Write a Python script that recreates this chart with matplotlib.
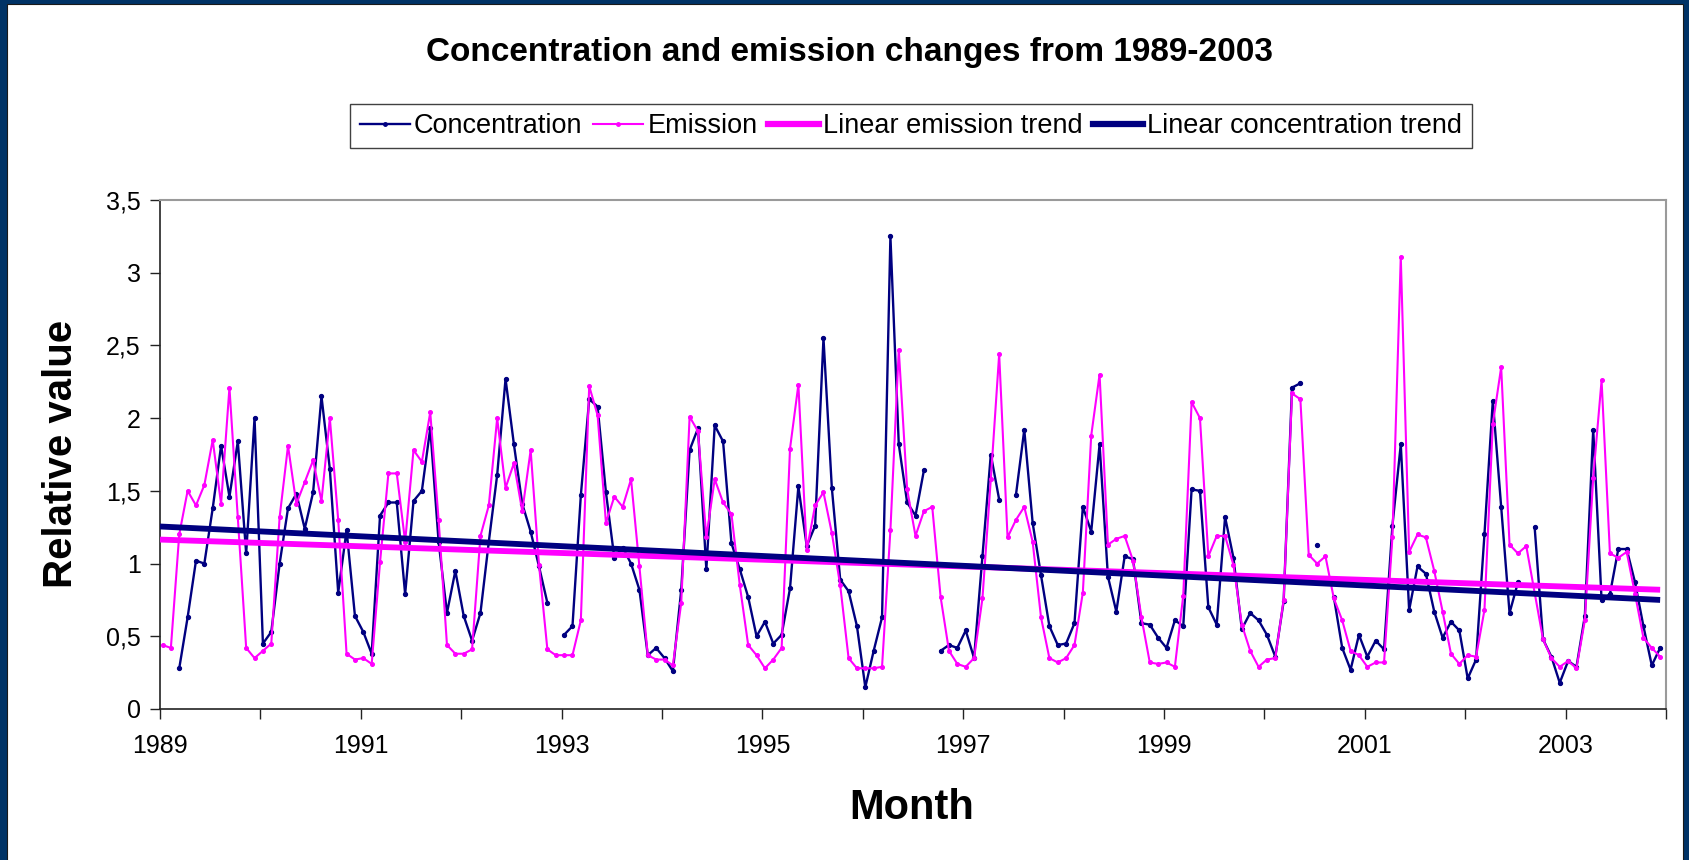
import numpy as np
import matplotlib
matplotlib.use("Agg")
import matplotlib.pyplot as plt
from matplotlib.patches import Rectangle
from matplotlib.lines import Line2D

plt.rcParams['font.family'] = ['Liberation Sans', 'DejaVu Sans']

# ---------------- data (monthly, Jan 1989 .. Dec 2003) ----------------
first_year = 1989
n_months = 180

emission = [
    0.44, 0.42, 1.20, 1.50, 1.40, 1.54, 1.85, 1.41, 2.21, 1.32, 0.42, 0.35,
    0.40, 0.45, 1.32, 1.81, 1.41, 1.56, 1.71, 1.43, 2.00, 1.30, 0.38, 0.34,
    0.35, 0.31, 1.01, 1.62, 1.62, 1.15, 1.78, 1.70, 2.04, 1.30, 0.44, 0.38,
    0.38, 0.41, 1.19, 1.40, 2.00, 1.52, 1.69, 1.36, 1.78, 0.99, 0.41, 0.37,
    0.37, 0.37, 0.61, 2.22, 2.02, 1.28, 1.46, 1.39, 1.58, 0.98, 0.37, 0.34,
    0.34, 0.30, 0.73, 2.01, 1.91, 1.18, 1.58, 1.42, 1.34, 0.85, 0.44, 0.37,
    0.28, 0.34, 0.42, 1.79, 2.23, 1.09, 1.40, 1.49, 1.21, 0.85, 0.35, 0.28,
    0.28, 0.28, 0.29, 1.23, 2.47, 1.51, 1.19, 1.36, 1.39, 0.77, 0.40, 0.31,
    0.29, 0.35, 0.76, 1.58, 2.44, 1.18, 1.30, 1.39, 1.15, 0.63, 0.35, 0.32,
    0.35, 0.44, 0.80, 1.88, 2.30, 1.13, 1.17, 1.19, 1.02, 0.63, 0.32, 0.31,
    0.32, 0.29, 0.78, 2.11, 2.00, 1.05, 1.19, 1.19, 0.99, 0.58, 0.40, 0.29,
    0.34, 0.35, 0.75, 2.17, 2.13, 1.06, 1.00, 1.05, 0.76, 0.61, 0.40, 0.37,
    0.29, 0.32, 0.32, 1.18, 3.11, 1.08, 1.20, 1.18, 0.95, 0.67, 0.38, 0.31,
    0.37, 0.36, 0.68, 1.96, 2.35, 1.13, 1.07, 1.12, 0.80, 0.48, 0.35, 0.29,
    0.33, 0.28, 0.61, 1.59, 2.26, 1.07, 1.04, 1.08, 0.79, 0.49, 0.42, 0.36,
]

concentration = [
    None, None, 0.28, 0.63, 1.02, 1.00, 1.38, 1.81, 1.46, 1.84, 1.07, 2.00,
    0.45, 0.53, 1.00, 1.38, 1.48, 1.24, 1.49, 2.15, 1.65, 0.80, 1.23, 0.64,
    0.53, 0.38, 1.33, 1.42, 1.42, 0.79, 1.43, 1.50, 1.93, 1.15, 0.66, 0.95,
    0.64, 0.47, 0.66, 1.15, 1.61, 2.27, 1.82, 1.41, 1.22, 0.98, 0.73, None,
    0.51, 0.57, 1.47, 2.13, 2.08, 1.49, 1.04, 1.11, 1.00, 0.82, 0.37, 0.42,
    0.35, 0.26, 0.82, 1.78, 1.93, 0.96, 1.95, 1.84, 1.14, 0.96, 0.77, 0.50,
    0.60, 0.45, 0.51, 0.83, 1.53, 1.12, 1.26, 2.55, 1.52, 0.89, 0.81, 0.57,
    0.15, 0.40, 0.63, 3.25, 1.82, 1.42, 1.33, 1.64, None, 0.40, 0.44, 0.42,
    0.54, 0.35, 1.05, 1.75, 1.44, None, 1.47, 1.92, 1.28, 0.92, 0.57, 0.44,
    0.45, 0.59, 1.39, 1.22, 1.82, 0.91, 0.67, 1.05, 1.03, 0.59, 0.58, 0.49,
    0.42, 0.61, 0.57, 1.51, 1.50, 0.70, 0.58, 1.32, 1.04, 0.55, 0.66, 0.61,
    0.51, 0.36, 0.74, 2.21, 2.24, None, 1.13, None, 0.77, 0.42, 0.27, 0.51,
    0.36, 0.47, 0.41, 1.26, 1.82, 0.68, 0.98, 0.93, 0.67, 0.49, 0.60, 0.54,
    0.21, 0.34, 1.20, 2.12, 1.39, 0.66, 0.87, None, 1.25, 0.48, 0.36, 0.18,
    0.33, 0.29, 0.64, 1.92, 0.75, 0.79, 1.10, 1.10, 0.87, 0.57, 0.30, 0.42,
]

# linear trend end values (first and last month)
emission_trend = [1.165, 0.82]
concentration_trend = [1.255, 0.75]

y_ticks = [0, 0.5, 1, 1.5, 2, 2.5, 3, 3.5]
y_tick_labels = ['0', '0,5', '1', '1,5', '2', '2,5', '3', '3,5']

# ---------------- figure ----------------
W, H = 1690, 860
fig = plt.figure(figsize=(W / 100, H / 100), dpi=100)
NAVY_BORDER = '#003366'
fig.patch.set_facecolor(NAVY_BORDER)
fig.add_artist(Rectangle((7 / W, -0.01), 1 - 13.5 / W, 1.01 - 4 / H,
                         transform=fig.transFigure, facecolor='white',
                         edgecolor='#1a1a1a', linewidth=0.8, zorder=0))

L, R, T, B = 160, 1666, 200, 709
ax = fig.add_axes([L / W, 1 - B / H, (R - L) / W, (B - T) / H])
ax.set_facecolor('white')

months = np.arange(n_months)
x = first_year + (months + 0.3) / 12.0
emi = np.array([np.nan if v is None else v for v in emission], dtype=float)
con = np.array([np.nan if v is None else v for v in concentration], dtype=float)

CON_C = '#000080'
EMI_C = '#FF00FF'

ax.plot(x, con, color=CON_C, lw=1.7, marker='o', ms=2.8, mec=CON_C, mfc=CON_C,
        zorder=3)
ax.plot(x, emi, color=EMI_C, lw=1.5, marker='o', ms=2.6, mec=EMI_C, mfc=EMI_C,
        zorder=4)
xt = [x[0] - 0.3 / 12, x[-1]]
ax.plot(xt, emission_trend, color=EMI_C, lw=4.2, solid_capstyle='butt', zorder=5)
ax.plot(xt, concentration_trend, color=CON_C, lw=4.2, solid_capstyle='butt', zorder=6)

ax.set_xlim(first_year, first_year + 15)
ax.set_ylim(0, 3.5)
ax.set_xticks(np.arange(first_year, first_year + 16, 1))
ax.set_xticklabels([str(first_year + i) if i % 2 == 0 and i < 15 else ''
                    for i in range(16)])
ax.set_yticks(y_ticks)
ax.set_yticklabels(y_tick_labels)
ax.tick_params(axis='both', direction='out', length=7, width=1.0,
               color='#222222', labelsize=18, pad=7)
ax.tick_params(axis='x', pad=11)

for s in ['left', 'bottom']:
    ax.spines[s].set_color('#222222')
    ax.spines[s].set_linewidth(1.2)
for s in ['top', 'right']:
    ax.spines[s].set_color('#9a9a9a')
    ax.spines[s].set_linewidth(1.5)

fig.text(61 / W, 1 - 454 / H, 'Relative value', rotation=90,
         ha='center', va='center', fontsize=29, fontweight='bold')
fig.text(912 / W, 1 - 808 / H, 'Month',
         ha='center', va='center', fontsize=30, fontweight='bold')

fig.text(849 / W, 1 - 52 / H, 'Concentration and emission changes from 1989-2003',
         ha='center', va='center', fontsize=24, fontweight='bold')

handles = [
    Line2D([], [], color=CON_C, lw=1.7, marker='o', ms=2.5),
    Line2D([], [], color=EMI_C, lw=1.5, marker='o', ms=2.5),
    Line2D([], [], color=EMI_C, lw=4.5),
    Line2D([], [], color=CON_C, lw=4.5),
]
labels = ['Concentration', 'Emission', 'Linear emission trend',
          'Linear concentration trend']
leg = fig.legend(handles, labels, loc='center', ncol=4,
                 bbox_to_anchor=(911 / W, 1 - 126 / H), fontsize=19.5,
                 frameon=True, fancybox=False, edgecolor='#111111',
                 handlelength=1.85, handletextpad=0.15, columnspacing=0.4,
                 borderpad=0.35, borderaxespad=0)
leg.get_frame().set_linewidth(1.0)

fig.savefig('out.png', dpi=100, facecolor=fig.get_facecolor())
